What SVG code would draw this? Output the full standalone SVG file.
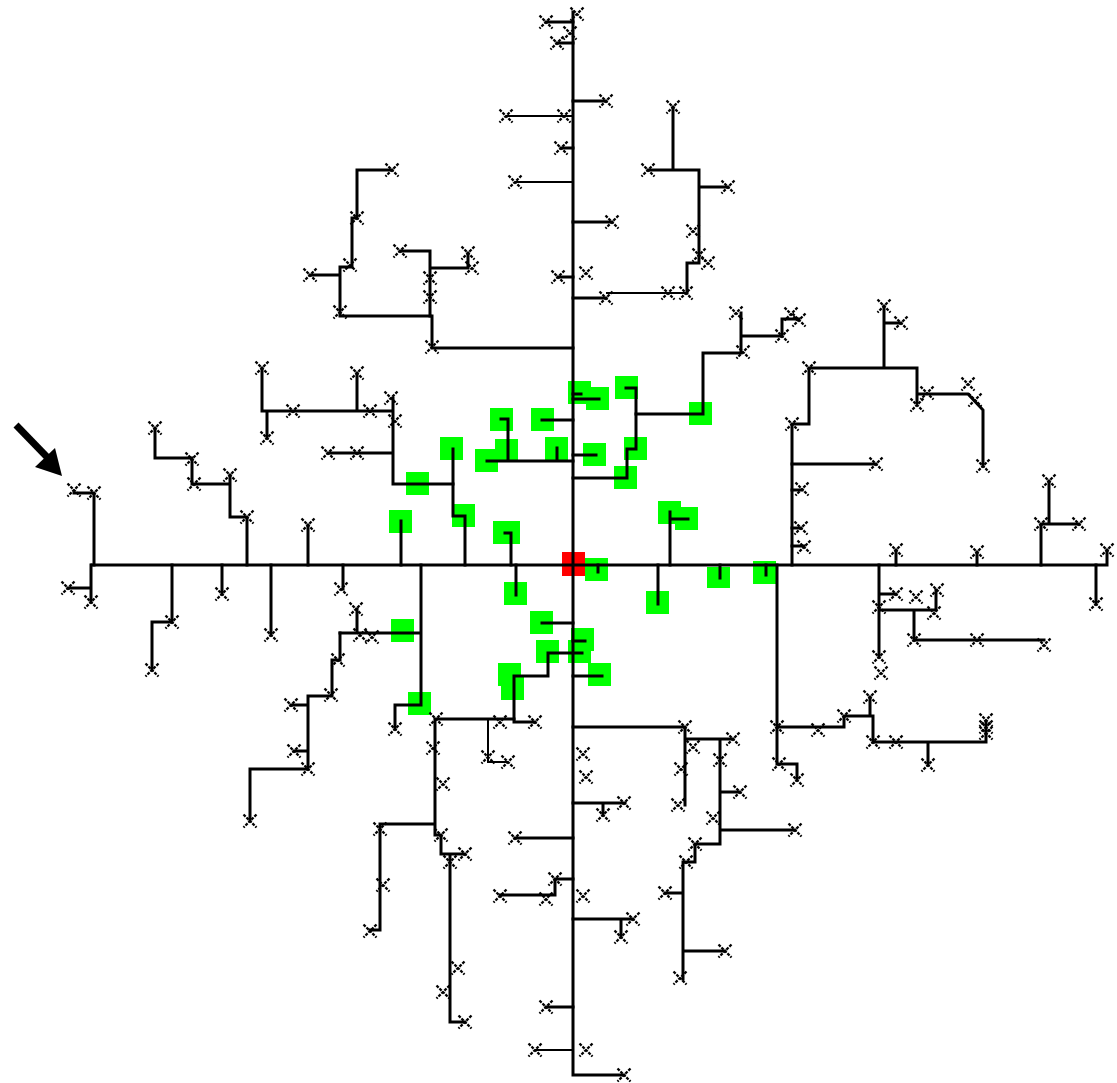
<svg xmlns="http://www.w3.org/2000/svg" xmlns:xlink="http://www.w3.org/1999/xlink" width="1117" height="1083" viewBox="0 0 1117 1083">
<style>
.hub{fill:#00ff00}
.root{fill:#ff0000}
.w{fill:none;stroke:#000;stroke-width:3;stroke-linecap:square;stroke-linejoin:miter}
.t{fill:none;stroke:#000;stroke-width:2}
.xm{fill:none;stroke:#000;stroke-width:2.3;stroke-dasharray:3 1.2}
</style>
<defs>
<path id="xm" class="xm" d="M-6.5,-6.5 L6.5,6.5 M6.5,-6.5 L-6.5,6.5"/>
</defs>
<rect width="1117" height="1083" fill="#fff"/>

<!-- highlighted hubs (drawn first so wiring sits on top) -->
<g id="hubs">
<g id="h01"><rect class="hub" x="568" y="381" width="23" height="23"/></g>
<g id="h02"><rect class="hub" x="586" y="387" width="23" height="23"/></g>
<g id="h03"><rect class="hub" x="615" y="376" width="23" height="23"/></g>
<g id="h04"><rect class="hub" x="689" y="402" width="23" height="23"/></g>
<g id="h05"><rect class="hub" x="490" y="408" width="23" height="23"/></g>
<g id="h06"><rect class="hub" x="531" y="408" width="23" height="23"/></g>
<g id="h07"><rect class="hub" x="440" y="437" width="23" height="23"/></g>
<g id="h08"><rect class="hub" x="495" y="439" width="23" height="23"/></g>
<g id="h09"><rect class="hub" x="475" y="449" width="23" height="23"/></g>
<g id="h10"><rect class="hub" x="545" y="437" width="23" height="23"/></g>
<g id="h11"><rect class="hub" x="583" y="443" width="23" height="23"/></g>
<g id="h12"><rect class="hub" x="624" y="437" width="23" height="23"/></g>
<g id="h13"><rect class="hub" x="614" y="466" width="23" height="23"/></g>
<g id="h14"><rect class="hub" x="406" y="472" width="23" height="23"/></g>
<g id="h15"><rect class="hub" x="658" y="501" width="23" height="23"/></g>
<g id="h16"><rect class="hub" x="675" y="507" width="23" height="23"/></g>
<g id="h17"><rect class="hub" x="452" y="504" width="23" height="23"/></g>
<g id="h18"><rect class="hub" x="389" y="510" width="23" height="23"/></g>
<g id="h19"><rect class="hub" x="493" y="521" width="27" height="23"/></g>
<g id="h20"><rect class="hub" x="585" y="558" width="23" height="23"/></g>
<g id="h21"><rect class="hub" x="504" y="582" width="23" height="23"/></g>
<g id="h22"><rect class="hub" x="646" y="591" width="23" height="23"/></g>
<g id="h23"><rect class="hub" x="707" y="567" width="23" height="21"/></g>
<g id="h24"><rect class="hub" x="753" y="561" width="23" height="23"/></g>
<g id="h25"><rect class="hub" x="530" y="611" width="23" height="23"/></g>
<g id="h26"><rect class="hub" x="571" y="628" width="23" height="23"/></g>
<g id="h27"><rect class="hub" x="536" y="640" width="23" height="23"/></g>
<g id="h28"><rect class="hub" x="568" y="640" width="23" height="23"/></g>
<g id="h29"><rect class="hub" x="588" y="663" width="23" height="23"/></g>
<g id="h30"><rect class="hub" x="498" y="663" width="23" height="23"/></g>
<g id="h31"><rect class="hub" x="501" y="677" width="23" height="23"/></g>
<g id="h32"><rect class="hub" x="391" y="619" width="23" height="23"/></g>
<g id="h33"><rect class="hub" x="408" y="692" width="23" height="23"/></g>
<g id="root"><rect class="root" x="562" y="552" width="23" height="24"/></g>
</g>

<!-- wiring -->
<g id="connectors">
<path class="w" d="M573,12 V1075 H624"/>
<path class="w" d="M92,565 H1107 V550"/>
<path class="w" d="M546,22 H573 M557,43 H573 M573,101 H606 M561,148 H573 M573,222 H612 M558,277 H573 M573,298 H606"/>
<path class="t" d="M506,116 H573 M515,182 H573 M606,293 H687"/>
<path class="w" d="M673,107 V170 M648,170 H699 V263 H687 V293 M699,187 H728"/>
<path class="w" d="M392,170 H357 V218 H352 V267 H340 V316 H430 M310,275 H340"/>
<path class="w" d="M400,251 H430 V316 M430,268 H468 V253 M430,316 H432 V348 H573"/>
<path class="w" d="M262,368 V411 H393 M357,373 V411 M267,411 V438 M393,398 V484 H453 M328,453 H393"/>
<path class="w" d="M453,449 V516 H465 V565"/>
<path class="w" d="M155,428 V458 H192 V484 H230 M230,475 V517 H247 V565"/>
<path class="w" d="M74,493 H94 V565 M308,525 V565 M401,521 V565"/>
<path class="w" d="M487,461 H573 M508,419 V461 M501,419 H508 M557,448 V461 M542,420 H573"/>
<path class="w" d="M573,394 H581 M573,399 H599 M573,455 H596"/>
<path class="w" d="M626,388 H636 V449 H627 V478 H573"/>
<path class="w" d="M636,414 H703 V353 H741 V313 M741,336 H782 V319 H799"/>
<path class="w" d="M670,565 V512 M670,519 H688 M511,565 V533 H505"/>
<path class="w" d="M792,565 V424 H809 V368 H917 V403 M884,368 V306 M884,323 H901 M917,394 H968 L983,410 V466"/>
<path class="w" d="M792,464 H876 M792,490 H802 M792,528 H801 M792,546 H804"/>
<path class="w" d="M896,565 V550 M977,565 V552 M1041,565 V524 H1079 M1049,524 V481 M1096,565 V604"/>
<path class="w" d="M879,565 V657 M879,594 H896 M879,610 H936 V590 M914,610 V640 H1044"/>
<path class="w" d="M777,565 V727 H844 V716 H873 V742 H986 V722 M870,716 V697 M928,742 V765 M777,727 V764 H797 V780"/>
<path class="w" d="M766,565 V575 M516,565 V595 M598,565 V572 M658,565 V604 M720,565 V578"/>
<path class="w" d="M573,727 H685 V805 M685,739 H733 M720,739 V844 H695 V862 H683 V979 M720,792 H740 M720,830 H795 M665,893 H683 M683,951 H725"/>
<path class="w" d="M573,803 H625 M603,803 V815 M573,919 H633 M621,919 V937 M515,838 H573 M573,879 H555 V895 H500 M546,1007 H573"/>
<path class="t" d="M535,1050 H573"/>
<path class="w" d="M548,653 H582 M548,653 V676 H514 V722 H535 M542,623 H573 M573,641 H585 M573,676 H602"/>
<path class="w" d="M435,719 H514 M435,719 V835 H441 V854 H465 M450,854 V1022 H465 M380,824 H435 M380,824 V930 H370"/>
<path class="t" d="M488,719 V762 H508"/>
<path class="w" d="M421,565 V705 H395 V729 M340,633 H421 M357,609 V633"/>
<path class="w" d="M91,565 V602 M68,588 H91 M172,565 V622 H152 V670 M222,565 V594 M271,565 V635 M343,565 V589"/>
<path class="w" d="M340,633 V660 H332 V696 H308 V769 H250 V821 M291,705 H308 M294,751 H308"/>
</g>

<!-- terminal markers -->
<g id="terminals">
<g id="x001"><use href="#xm" x="577" y="14"/></g>
<g id="x002"><use href="#xm" x="546" y="22"/></g>
<g id="x003"><use href="#xm" x="570" y="33"/></g>
<g id="x004"><use href="#xm" x="557" y="43"/></g>
<g id="x005"><use href="#xm" x="606" y="101"/></g>
<g id="x006"><use href="#xm" x="506" y="116"/></g>
<g id="x007"><use href="#xm" x="564" y="116"/></g>
<g id="x008"><use href="#xm" x="561" y="148"/></g>
<g id="x009"><use href="#xm" x="515" y="182"/></g>
<g id="x010"><use href="#xm" x="612" y="222"/></g>
<g id="x011"><use href="#xm" x="558" y="277"/></g>
<g id="x012"><use href="#xm" x="586" y="273"/></g>
<g id="x013"><use href="#xm" x="606" y="298"/></g>
<g id="x014"><use href="#xm" x="668" y="293"/></g>
<g id="x015"><use href="#xm" x="686" y="293"/></g>
<g id="x016"><use href="#xm" x="708" y="263"/></g>
<g id="x017"><use href="#xm" x="699" y="255"/></g>
<g id="x018"><use href="#xm" x="673" y="107"/></g>
<g id="x019"><use href="#xm" x="648" y="170"/></g>
<g id="x020"><use href="#xm" x="728" y="187"/></g>
<g id="x021"><use href="#xm" x="693" y="231"/></g>
<g id="x022"><use href="#xm" x="392" y="170"/></g>
<g id="x023"><use href="#xm" x="357" y="218"/></g>
<g id="x024"><use href="#xm" x="350" y="265"/></g>
<g id="x025"><use href="#xm" x="310" y="275"/></g>
<g id="x026"><use href="#xm" x="340" y="312"/></g>
<g id="x027"><use href="#xm" x="400" y="251"/></g>
<g id="x028"><use href="#xm" x="468" y="253"/></g>
<g id="x029"><use href="#xm" x="472" y="268"/></g>
<g id="x030"><use href="#xm" x="430" y="278"/></g>
<g id="x031"><use href="#xm" x="430" y="297"/></g>
<g id="x032"><use href="#xm" x="432" y="347"/></g>
<g id="x033"><use href="#xm" x="262" y="368"/></g>
<g id="x034"><use href="#xm" x="357" y="373"/></g>
<g id="x035"><use href="#xm" x="293" y="411"/></g>
<g id="x036"><use href="#xm" x="370" y="411"/></g>
<g id="x037"><use href="#xm" x="267" y="438"/></g>
<g id="x038"><use href="#xm" x="391" y="398"/></g>
<g id="x039"><use href="#xm" x="395" y="421"/></g>
<g id="x040"><use href="#xm" x="328" y="453"/></g>
<g id="x041"><use href="#xm" x="357" y="453"/></g>
<g id="x042"><use href="#xm" x="155" y="428"/></g>
<g id="x043"><use href="#xm" x="192" y="459"/></g>
<g id="x044"><use href="#xm" x="194" y="484"/></g>
<g id="x045"><use href="#xm" x="230" y="475"/></g>
<g id="x046"><use href="#xm" x="247" y="517"/></g>
<g id="x047"><use href="#xm" x="74" y="490"/></g>
<g id="x048"><use href="#xm" x="94" y="493"/></g>
<g id="x049"><use href="#xm" x="308" y="525"/></g>
<g id="x050"><use href="#xm" x="736" y="313"/></g>
<g id="x051"><use href="#xm" x="743" y="352"/></g>
<g id="x052"><use href="#xm" x="782" y="336"/></g>
<g id="x053"><use href="#xm" x="791" y="314"/></g>
<g id="x054"><use href="#xm" x="799" y="320"/></g>
<g id="x055"><use href="#xm" x="792" y="424"/></g>
<g id="x056"><use href="#xm" x="809" y="368"/></g>
<g id="x057"><use href="#xm" x="917" y="405"/></g>
<g id="x058"><use href="#xm" x="884" y="306"/></g>
<g id="x059"><use href="#xm" x="901" y="323"/></g>
<g id="x060"><use href="#xm" x="927" y="393"/></g>
<g id="x061"><use href="#xm" x="968" y="384"/></g>
<g id="x062"><use href="#xm" x="975" y="400"/></g>
<g id="x063"><use href="#xm" x="983" y="466"/></g>
<g id="x064"><use href="#xm" x="876" y="464"/></g>
<g id="x065"><use href="#xm" x="802" y="489"/></g>
<g id="x066"><use href="#xm" x="801" y="528"/></g>
<g id="x067"><use href="#xm" x="804" y="547"/></g>
<g id="x068"><use href="#xm" x="896" y="550"/></g>
<g id="x069"><use href="#xm" x="977" y="552"/></g>
<g id="x070"><use href="#xm" x="1041" y="524"/></g>
<g id="x071"><use href="#xm" x="1079" y="524"/></g>
<g id="x072"><use href="#xm" x="1049" y="481"/></g>
<g id="x073"><use href="#xm" x="1096" y="604"/></g>
<g id="x074"><use href="#xm" x="1107" y="550"/></g>
<g id="x075"><use href="#xm" x="879" y="607"/></g>
<g id="x076"><use href="#xm" x="879" y="657"/></g>
<g id="x077"><use href="#xm" x="881" y="673"/></g>
<g id="x078"><use href="#xm" x="896" y="594"/></g>
<g id="x079"><use href="#xm" x="937" y="590"/></g>
<g id="x080"><use href="#xm" x="916" y="597"/></g>
<g id="x081"><use href="#xm" x="934" y="613"/></g>
<g id="x082"><use href="#xm" x="914" y="640"/></g>
<g id="x083"><use href="#xm" x="977" y="640"/></g>
<g id="x084"><use href="#xm" x="1044" y="645"/></g>
<g id="x085"><use href="#xm" x="777" y="727"/></g>
<g id="x086"><use href="#xm" x="818" y="730"/></g>
<g id="x087"><use href="#xm" x="844" y="716"/></g>
<g id="x088"><use href="#xm" x="873" y="742"/></g>
<g id="x089"><use href="#xm" x="896" y="742"/></g>
<g id="x090"><use href="#xm" x="986" y="720"/></g>
<g id="x091"><use href="#xm" x="986" y="727"/></g>
<g id="x092"><use href="#xm" x="986" y="733"/></g>
<g id="x093"><use href="#xm" x="870" y="697"/></g>
<g id="x094"><use href="#xm" x="928" y="765"/></g>
<g id="x095"><use href="#xm" x="779" y="764"/></g>
<g id="x096"><use href="#xm" x="797" y="780"/></g>
<g id="x097"><use href="#xm" x="685" y="727"/></g>
<g id="x098"><use href="#xm" x="681" y="769"/></g>
<g id="x099"><use href="#xm" x="678" y="805"/></g>
<g id="x100"><use href="#xm" x="733" y="739"/></g>
<g id="x101"><use href="#xm" x="693" y="747"/></g>
<g id="x102"><use href="#xm" x="720" y="760"/></g>
<g id="x103"><use href="#xm" x="740" y="792"/></g>
<g id="x104"><use href="#xm" x="713" y="818"/></g>
<g id="x105"><use href="#xm" x="795" y="830"/></g>
<g id="x106"><use href="#xm" x="695" y="844"/></g>
<g id="x107"><use href="#xm" x="686" y="862"/></g>
<g id="x108"><use href="#xm" x="665" y="893"/></g>
<g id="x109"><use href="#xm" x="725" y="951"/></g>
<g id="x110"><use href="#xm" x="680" y="978"/></g>
<g id="x111"><use href="#xm" x="583" y="754"/></g>
<g id="x112"><use href="#xm" x="586" y="777"/></g>
<g id="x113"><use href="#xm" x="624" y="803"/></g>
<g id="x114"><use href="#xm" x="603" y="815"/></g>
<g id="x115"><use href="#xm" x="633" y="919"/></g>
<g id="x116"><use href="#xm" x="621" y="937"/></g>
<g id="x117"><use href="#xm" x="515" y="838"/></g>
<g id="x118"><use href="#xm" x="555" y="879"/></g>
<g id="x119"><use href="#xm" x="546" y="899"/></g>
<g id="x120"><use href="#xm" x="500" y="896"/></g>
<g id="x121"><use href="#xm" x="583" y="896"/></g>
<g id="x122"><use href="#xm" x="546" y="1007"/></g>
<g id="x123"><use href="#xm" x="535" y="1050"/></g>
<g id="x124"><use href="#xm" x="586" y="1050"/></g>
<g id="x125"><use href="#xm" x="624" y="1075"/></g>
<g id="x126"><use href="#xm" x="535" y="722"/></g>
<g id="x127"><use href="#xm" x="500" y="722"/></g>
<g id="x128"><use href="#xm" x="488" y="757"/></g>
<g id="x129"><use href="#xm" x="508" y="762"/></g>
<g id="x130"><use href="#xm" x="436" y="719"/></g>
<g id="x131"><use href="#xm" x="433" y="748"/></g>
<g id="x132"><use href="#xm" x="443" y="784"/></g>
<g id="x133"><use href="#xm" x="441" y="835"/></g>
<g id="x134"><use href="#xm" x="465" y="854"/></g>
<g id="x135"><use href="#xm" x="450" y="862"/></g>
<g id="x136"><use href="#xm" x="458" y="968"/></g>
<g id="x137"><use href="#xm" x="443" y="992"/></g>
<g id="x138"><use href="#xm" x="465" y="1022"/></g>
<g id="x139"><use href="#xm" x="380" y="829"/></g>
<g id="x140"><use href="#xm" x="383" y="885"/></g>
<g id="x141"><use href="#xm" x="370" y="931"/></g>
<g id="x142"><use href="#xm" x="395" y="729"/></g>
<g id="x143"><use href="#xm" x="360" y="635"/></g>
<g id="x144"><use href="#xm" x="372" y="637"/></g>
<g id="x145"><use href="#xm" x="91" y="602"/></g>
<g id="x146"><use href="#xm" x="68" y="588"/></g>
<g id="x147"><use href="#xm" x="172" y="622"/></g>
<g id="x148"><use href="#xm" x="152" y="670"/></g>
<g id="x149"><use href="#xm" x="222" y="594"/></g>
<g id="x150"><use href="#xm" x="271" y="635"/></g>
<g id="x151"><use href="#xm" x="341" y="589"/></g>
<g id="x152"><use href="#xm" x="356" y="609"/></g>
<g id="x153"><use href="#xm" x="338" y="660"/></g>
<g id="x154"><use href="#xm" x="331" y="695"/></g>
<g id="x155"><use href="#xm" x="291" y="705"/></g>
<g id="x156"><use href="#xm" x="294" y="751"/></g>
<g id="x157"><use href="#xm" x="308" y="769"/></g>
<g id="x158"><use href="#xm" x="250" y="821"/></g>
</g>

<!-- pointer arrow -->
<g id="pointer">
<path d="M16,425 L47,457" stroke="#000" stroke-width="7" fill="none"/>
<polygon points="35,467 55,448 62,476" fill="#000"/>
</g>
</svg>
